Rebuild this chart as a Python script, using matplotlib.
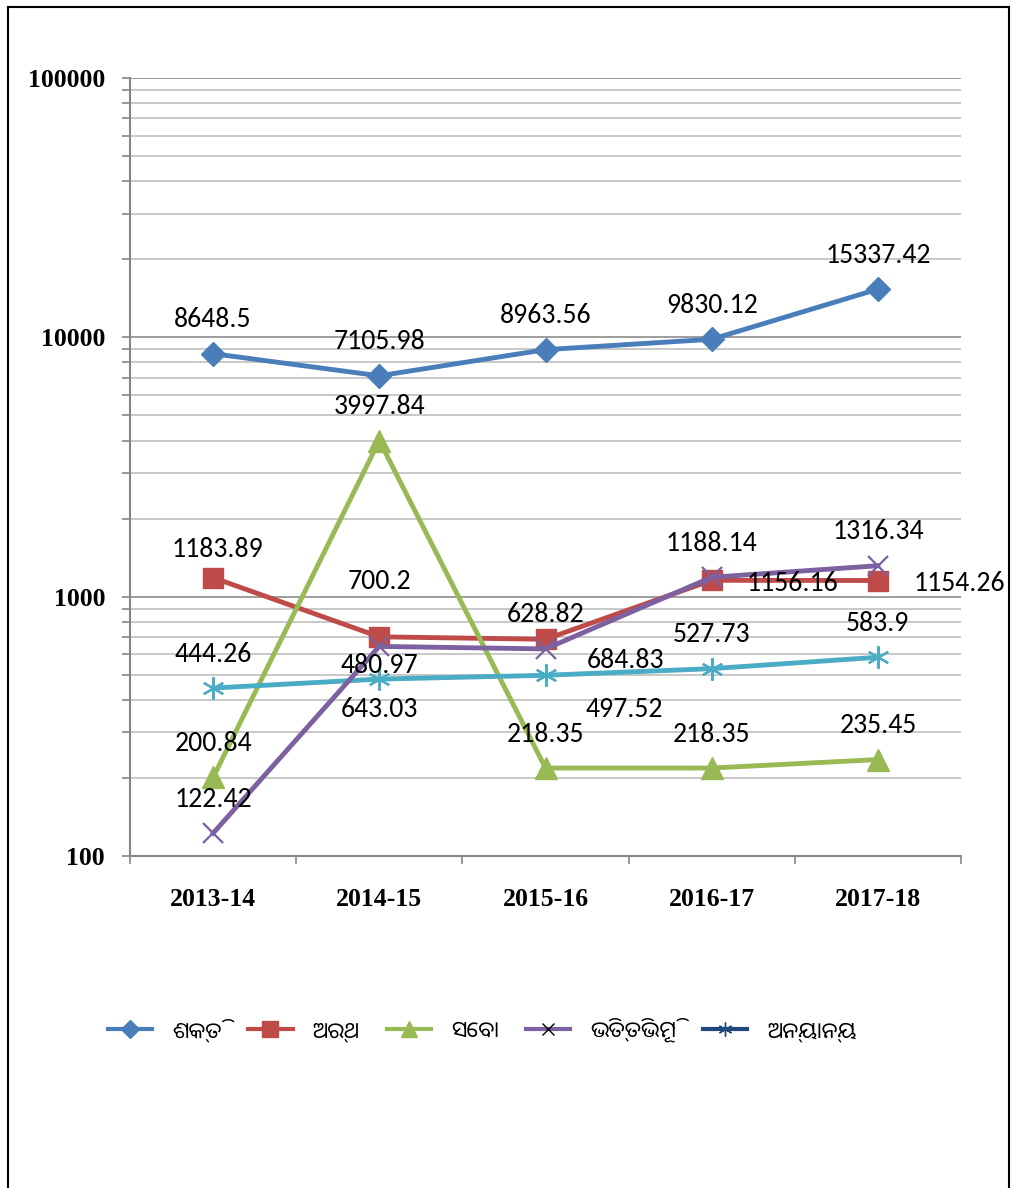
import matplotlib
matplotlib.use("Agg")
import matplotlib.pyplot as plt
import numpy as np
from matplotlib.lines import Line2D
from matplotlib import font_manager

categories = ["2013-14", "2014-15", "2015-16", "2016-17", "2017-18"]
series_names = ["ଶକ୍ତି", "ଅର୍ଥ", "ସେବା", "ଭିତ୍ତିଭୂମି", "ଅନ୍ୟାନ୍ୟ"]
shakti = [8648.5, 7105.98, 8963.56, 9830.12, 15337.42]
artha = [1183.89, 700.2, 684.83, 1156.16, 1154.26]
seba = [200.84, 3997.84, 218.35, 218.35, 235.45]
bhitti = [122.42, 643.03, 628.82, 1188.14, 1316.34]
anyanya = [444.26, 480.97, 497.52, 527.73, 583.9]
ytick_vals = [100, 1000, 10000, 100000]
ytick_labels = ["100", "1000", "10000", "100000"]

names_avail = {f.name for f in font_manager.fontManager.ttflist}
label_font = [f for f in ["Carlito", "Open Sans", "DejaVu Sans"] if f in names_avail]
odia_font = [f for f in ["Noto Sans Oriya", "Noto Sans Oriya UI", "Anek Odia", "DejaVu Sans"] if f in names_avail]

colors = ["#4A7EBB", "#BE4B48", "#98B954", "#7D60A0", "#4BACC6"]
legend_colors = ["#4A7EBB", "#BE4B48", "#98B954", "#7D60A0", "#1F497D"]
markers = ["D", "s", "^", "x", (6, 2, 0)]
msizes = [12.5, 14, 16, 14, 16]

# label offsets in pixels (series index, point index) -> (dx, dy)
default_off = (0, 34)
label_offsets = {
    (1, 0): (4, 28), (1, 1): (0, 55), (1, 2): (80, -21), (1, 3): (81, -3), (1, 4): (81, -3),
    (3, 1): (0, -63),
    (4, 1): (0, 14), (4, 2): (79, -34),
}

W, H = 1012, 1188
fig = plt.figure(figsize=(W / 100, H / 100), dpi=100)
ax = fig.add_axes([130 / W, 1 - 856 / H, (961 - 130) / W, (856 - 78) / H])

x = np.arange(len(categories))
data = [shakti, artha, seba, bhitti, anyanya]
for i, ys in enumerate(data):
    ax.plot(x, ys, color=colors[i], lw=3.5, marker=markers[i], ms=msizes[i],
            mec=colors[i], mfc=colors[i], mew=1.6 if i >= 3 else 1, zorder=3 + (i == 3))

lab_size = 20 if label_font and label_font[0] == "Carlito" else 17
for i, ys in enumerate(data):
    for j, v in enumerate(ys):
        dx, dy = label_offsets.get((i, j), default_off)
        ax.annotate(repr(v).rstrip("0").rstrip(".") if "." in repr(v) else repr(v),
                    (x[j], v), xytext=(dx, dy), textcoords="offset pixels",
                    ha="center", va="center", fontsize=lab_size, family=label_font,
                    color="black", zorder=6)

ax.set_yscale("log")
ax.set_ylim(100, 100000)
ax.set_xlim(-0.5, len(categories) - 0.5)
ax.set_yticks(ytick_vals)
ax.set_yticklabels(ytick_labels)
ax.yaxis.set_minor_locator(matplotlib.ticker.LogLocator(base=10, subs=np.arange(2, 10)))
ax.yaxis.set_minor_formatter(matplotlib.ticker.NullFormatter())
ax.grid(True, which="major", axis="y", color="#8C8C8C", lw=1.2)
ax.grid(True, which="minor", axis="y", color="#BFBFBF", lw=1.2)
ax.set_axisbelow(True)

ax.set_xticks(x)
ax.set_xticklabels(categories)
ax.set_xticks(np.arange(-0.5, len(categories), 1), minor=True)
ax.tick_params(axis="x", which="major", length=0, pad=23)
ax.tick_params(axis="x", which="minor", length=6, color="#868686", width=1.2)
ax.tick_params(axis="y", which="both", length=6, color="#868686", width=1.2, pad=12)
for lab in ax.get_xticklabels() + ax.get_yticklabels():
    lab.set_fontfamily("Liberation Serif")
    lab.set_fontweight("bold")
    lab.set_fontsize(18.5)

for s in ["top", "right"]:
    ax.spines[s].set_visible(False)
for s in ["left", "bottom"]:
    ax.spines[s].set_color("#868686")
    ax.spines[s].set_linewidth(1.5)

# outer frame (open at bottom)
fig.add_artist(Line2D([8 / W, 8 / W], [0, 1 - 7 / H], color="black", lw=1.5, transform=fig.transFigure))
fig.add_artist(Line2D([1009 / W, 1009 / W], [0, 1 - 7 / H], color="black", lw=1.5, transform=fig.transFigure))
fig.add_artist(Line2D([8 / W, 1009 / W], [1 - 7 / H, 1 - 7 / H], color="black", lw=1.5, transform=fig.transFigure))

handles = []
for i in range(5):
    handles.append(Line2D([0], [0], color=legend_colors[i], lw=3, marker=markers[i],
                          ms=[9, 11, 12, 8, 10][i], mfc=legend_colors[i],
                          mec=("black" if i == 3 else legend_colors[i]), mew=1))
leg = fig.legend(handles, series_names, loc="center", bbox_to_anchor=(482 / W, 1 - 1030 / H),
                 ncol=5, frameon=False, handlelength=2.0, columnspacing=1.2,
                 handletextpad=0.9,
                 prop={"family": odia_font, "size": 16})

fig.savefig("out.png", dpi=100)
